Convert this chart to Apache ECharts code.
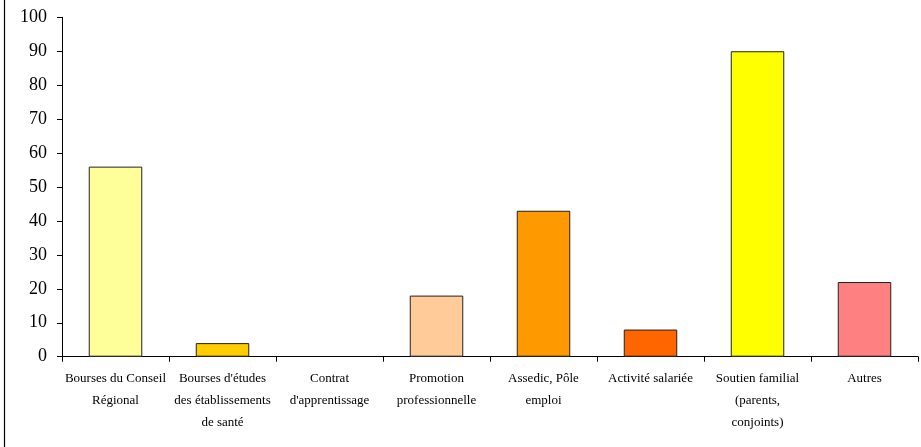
<!DOCTYPE html>
<html><head><meta charset="utf-8">
<script src="https://cdn.jsdelivr.net/npm/echarts@6/dist/echarts.min.js"></script>
<style>html,body{margin:0;padding:0;background:#fff}#c{width:921px;height:447px}</style>
</head><body><div id="c"></div>
<script>
const categories = [
  "Bourses du Conseil\nRégional",
  "Bourses d'études\ndes établissements\nde santé",
  "Contrat\nd'apprentissage",
  "Promotion\nprofessionnelle",
  "Assedic, Pôle\nemploi",
  "Activité salariée",
  "Soutien familial\n(parents,\nconjoints)",
  "Autres"
];
const values = [56, 4, 0, 18, 43, 8, 90, 22];
const colors = ["#FFFF99", "#FFCC00", "#FFFFFF", "#FFCC99", "#FF9900", "#FF6600", "#FFFF00", "#FF8080"];
const yTicks = [0, 10, 20, 30, 40, 50, 60, 70, 80, 90, 100];

const chart = echarts.init(document.getElementById('c'), null, {renderer: 'canvas'});
chart.setOption({
  animation: false,
  backgroundColor: '#fff',
  grid: {left: 62, right: 3, top: 17.3, bottom: 90.3, containLabel: false},
  xAxis: {
    type: 'category',
    data: categories,
    axisLine: {lineStyle: {color: '#000', width: 1}},
    axisTick: {show: true, length: 5, lineStyle: {color: '#000'}},
    axisLabel: {
      interval: 0, margin: 11, color: '#000',
      fontFamily: 'Liberation Serif', fontSize: 13, lineHeight: 22
    }
  },
  yAxis: {
    type: 'value',
    min: yTicks[0], max: yTicks[yTicks.length - 1], interval: 10,
    axisLine: {show: true, lineStyle: {color: '#000', width: 1}},
    axisTick: {show: true, length: 5, lineStyle: {color: '#000'}},
    splitLine: {show: false},
    axisLabel: {margin: 15, color: '#000', fontFamily: 'Liberation Serif', fontSize: 18}
  },
  series: [{
    type: 'bar',
    barWidth: '50%',
    data: values.map((v, i) => ({
      value: v,
      itemStyle: {color: colors[i], borderColor: '#222', borderWidth: v === 0 ? 0 : 1}
    }))
  }],
  graphic: [{
    type: 'line',
    shape: {x1: 4.5, y1: 0, x2: 4.5, y2: 447},
    style: {stroke: '#000', lineWidth: 1.2}
  }]
});
</script>
</body></html>
